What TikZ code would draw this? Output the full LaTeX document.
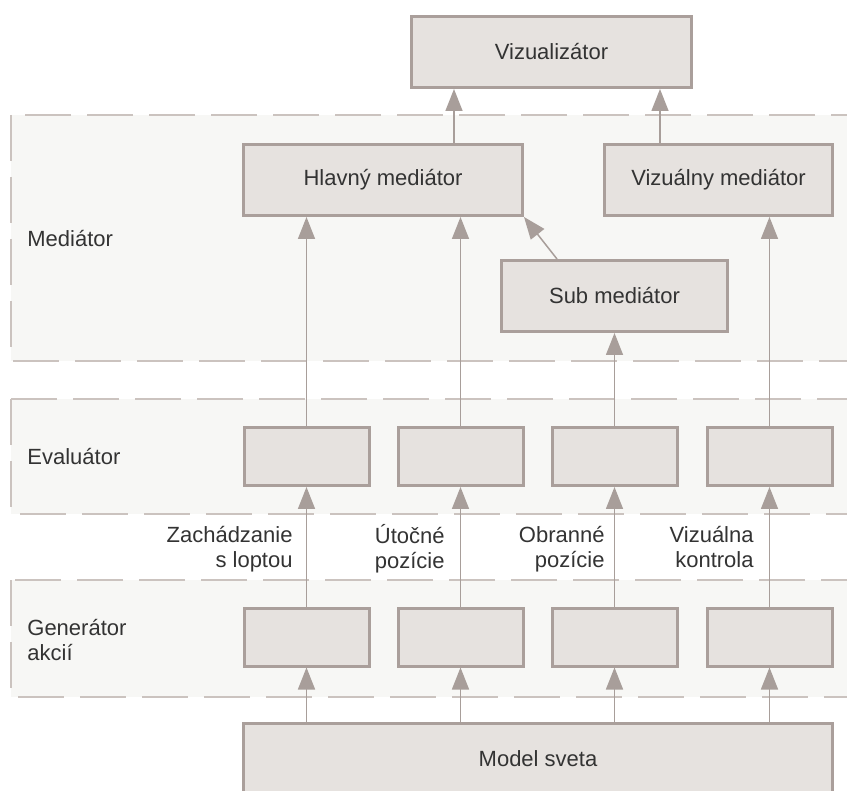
\documentclass[tikz,border=0pt]{standalone}
\usepackage{fontspec}
\setmainfont{Liberation Sans}
\usepackage{xcolor}
\usetikzlibrary{arrows.meta}

\definecolor{boxfill}{HTML}{E6E2DF}
\definecolor{boxline}{HTML}{AA9F9B}
\definecolor{arrline}{HTML}{A89E9A}
\definecolor{layerfill}{HTML}{F7F7F5}
\definecolor{layerline}{HTML}{CBC3BF}
\definecolor{txtcol}{HTML}{333333}

\tikzset{
  block/.style={draw=boxline, fill=boxfill, line width=1.5pt, inner sep=0pt},
  layer/.style={draw=layerline, fill=layerfill, line width=1pt, dash pattern=on 23pt off 8pt},
  arr/.style={draw=arrline, line width=0.75pt, -{Triangle[length=11pt,width=8.5pt]}},
  lbl/.style={inner sep=0pt, align=right, anchor=north east},
  layerlbl/.style={inner sep=0pt, align=left},
}

\begin{document}
\begin{tikzpicture}[x=0.5pt, y=-0.5pt,
  every node/.style={font=\fontsize{11}{12.5}\selectfont, text=txtcol}]
\useasboundingbox (0,0) rectangle (847,791);
\clip (0,0) rectangle (847,791);

\draw[layer] (11,115) rectangle (880,361);
\draw[layer] (11,399) rectangle (880,514);
\draw[layer] (11,580) rectangle (880,697);

\node[layerlbl, anchor=base west] (medlbl) at (27,247) {Mediátor};
\node[layerlbl, anchor=base west] (evallbl) at (27,465) {Evaluátor};
\node[layerlbl, anchor=north west] (genlbl) at (27,617.5) {\strut Generátor\\\strut akcií};

\node[block, minimum width=140pt, minimum height=35.5pt] (viz) at (551.5,52) {Vizualizátor};
\node[block, minimum width=139.5pt, minimum height=35.5pt] (hlavny) at (383,180) {Hlavný mediátor};
\node[block, minimum width=114pt, minimum height=35.5pt] (vizmed) at (718.5,180) {Vizuálny mediátor};
\node[block, minimum width=113pt, minimum height=35.5pt] (sub) at (614.5,296) {Sub mediátor};

\node[block, minimum width=62.5pt, minimum height=29pt] (ev1) at (306.5,456.5) {};
\node[block, minimum width=62.5pt, minimum height=29pt] (ev2) at (460.5,456.5) {};
\node[block, minimum width=62.5pt, minimum height=29pt] (ev3) at (614.5,456.5) {};
\node[block, minimum width=62.5pt, minimum height=29pt] (ev4) at (769.5,456.5) {};

\node[block, minimum width=62.5pt, minimum height=29pt] (gen1) at (306.5,637) {};
\node[block, minimum width=62.5pt, minimum height=29pt] (gen2) at (460.5,637) {};
\node[block, minimum width=62.5pt, minimum height=29pt] (gen3) at (614.5,637) {};
\node[block, minimum width=62.5pt, minimum height=29pt] (gen4) at (769.5,637) {};

\node[block, minimum width=294.5pt, minimum height=48pt] (model) at (538,771.5) {\raisebox{13pt}{Model sveta}};

\node[lbl] (zach) at (293,524.5) {\strut Zachádzanie\\\strut s loptou};
\node[lbl] (utoc) at (445,524.5) {\strut Útočné\\\strut pozície};
\node[lbl] (obr) at (605,524.5) {\strut Obranné\\\strut pozície};
\node[lbl] (vizk) at (754,524.5) {\strut Vizuálna\\\strut kontrola};

\draw[arr] ([xshift=35.5pt]hlavny.north) -- ([xshift=35.5pt]hlavny.north |- viz.south);
\draw[arr] ([xshift=-29.25pt]vizmed.north) -- ([xshift=-29.25pt]vizmed.north |- viz.south);
\draw[arr] ([xshift=-28.75pt]sub.north) -- (hlavny.south east);

\draw[arr] (ev1.north) -- (ev1.north |- hlavny.south);
\draw[arr] (ev2.north) -- (ev2.north |- hlavny.south);
\draw[arr] (ev3.north) -- (ev3.north |- sub.south);
\draw[arr] (ev4.north) -- (ev4.north |- vizmed.south);

\foreach \i in {1,...,4} {
  \draw[arr] (gen\i.north) -- (ev\i.south);
  \draw[arr] (gen\i.south |- model.north) -- (gen\i.south);
}
\end{tikzpicture}
\end{document}
